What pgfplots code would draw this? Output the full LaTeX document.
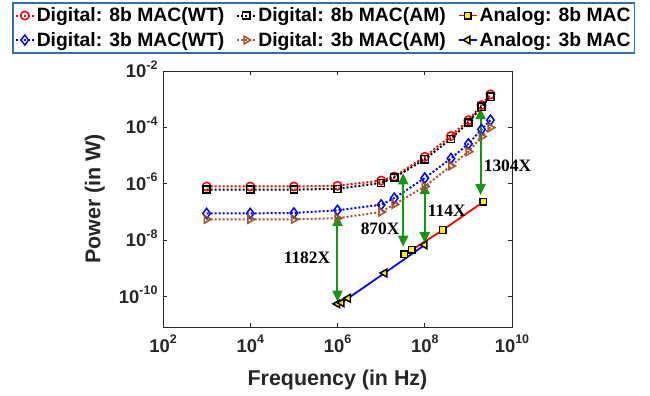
\documentclass[border=0pt]{standalone}
\usepackage{fontspec}
\setmainfont{Liberation Sans}
\newfontfamily\serifb{Liberation Serif}
\usepackage{pgfplots}
\pgfplotsset{compat=1.18}
\usetikzlibrary{arrows.meta}
\definecolor{mbrown}{RGB}{162,82,45}
\definecolor{mgreen}{RGB}{20,150,20}
\definecolor{legblue}{RGB}{46,110,180}
\definecolor{axgray}{RGB}{38,38,38}
\newcommand{\tl}[1]{10\raisebox{0.45em}{\fontsize{12.5}{12.5}\selectfont #1}}
\begin{document}
\begin{tikzpicture}
\useasboundingbox (-163bp,-69bp) rectangle (487bp,327bp);
\begin{axis}[
  at={(0,0)}, anchor=south west,
  scale only axis, width=349bp, height=256bp,
  xmode=log, ymode=log,
  xmin=1e2, xmax=1e10, ymin=8.3e-12, ymax=1e-2,
  xtick={1e2,1e4,1e6,1e8,1e10},
  xticklabels={\tl{2},\tl{4},\tl{6},\tl{8},\tl{10}},
  ytick={1e-10,1e-8,1e-6,1e-4,1e-2},
  yticklabels={\tl{-10},\tl{-8},\tl{-6},\tl{-4},\tl{-2}},
  xminorticks=false, yminorticks=false,
  tick align=inside, major tick length=4bp,
  axis line style={axgray, line width=0.9bp},
  every tick/.style={axgray, line width=0.9bp},
  ticklabel style={font=\fontsize{18.5}{18.5}\selectfont\bfseries, text=axgray},
  xticklabel style={anchor=base, yshift=-25bp},
  yticklabel style={anchor=base east, yshift=-6.5bp, xshift=-2bp},
  xlabel={Frequency (in Hz)},
  ylabel={Power (in W)},
  label style={font=\fontsize{21.5}{21.5}\selectfont\bfseries, text=axgray},
  xlabel style={at={(axis description cs:0.5,-0.230)}, anchor=base},
  ylabel style={at={(axis description cs:-0.195,0.5)}, anchor=center},
  clip=false,
  legend columns=3,
  legend cell align=left,
  legend image code/.code={\draw[mark repeat=2,mark phase=2] plot coordinates {(0bp,0bp) (9bp,0bp) (18bp,0bp)};},
  legend style={at={(axis description cs:-0.4327,1.2695)}, anchor=north west,
    draw=legblue, line width=1.6bp, fill=white,
    font=\fontsize{19.4}{20}\selectfont\bfseries,
    inner xsep=2bp, inner ysep=3bp, row sep=5bp,
    nodes={inner sep=2bp},
    /tikz/every even column/.append style={column sep=10bp}},
]
% Digital 8b WT
\addplot[red, line width=2bp, dash pattern=on 2bp off 2bp, mark=o, mark size=4.2bp, mark options={solid, line width=1.5bp}]
coordinates {(1e3,8e-7)(1e4,8e-7)(1e5,8e-7)(1e6,8.5e-7)(1e7,1.3e-6)(2e7,1.8e-6)(1e8,9e-6)(4e8,5e-5)(1e9,1.8e-4)(2e9,6.2e-4)(3.2e9,1.48e-3)};
\addlegendentry{Digital: 8b MAC(WT)}
% Digital 8b AM
\addplot[black, line width=2bp, dash pattern=on 2bp off 2bp, mark=square, mark size=3.6bp, mark options={solid, line width=1.5bp}]
coordinates {(1e3,6.2e-7)(1e4,6.2e-7)(1e5,6.2e-7)(1e6,6.6e-7)(1e7,1.07e-6)(2e7,1.65e-6)(1e8,7.4e-6)(4e8,3.9e-5)(1e9,1.5e-4)(2e9,5.4e-4)(3.2e9,1.23e-3)};
\addlegendentry{Digital: 8b MAC(AM)}
% Analog 8b
\addplot[red, line width=1.8bp, mark=square*, mark size=3.3bp, mark options={fill=yellow, draw=black, line width=1.5bp}]
coordinates {(3.4e7,3.2e-9)(5e7,4.5e-9)(2.6e8,2.3e-8)(2.2e9,2.3e-7)};
\addlegendentry{Analog: 8b MAC}
% Digital 3b WT
\addplot[blue, line width=2bp, dash pattern=on 2bp off 2bp, mark=diamond, mark size=5bp, mark options={solid, line width=1.5bp}]
coordinates {(1e3,8.9e-8)(1e4,8.9e-8)(1e5,9.2e-8)(1e6,1.15e-7)(1e7,1.8e-7)(2e7,3.1e-7)(1e8,1.6e-6)(4e8,7.9e-6)(1e9,2.6e-5)(2e9,8.5e-5)(3.2e9,1.8e-4)};
\addlegendentry{Digital: 3b MAC(WT)}
% Digital 3b AM
\addplot[mbrown, line width=2bp, dash pattern=on 2bp off 2bp, mark=triangle, mark size=4.5bp, mark options={solid, line width=1.5bp, rotate=-90}]
coordinates {(1e3,5.5e-8)(1e4,5.5e-8)(1e5,5.5e-8)(1e6,6e-8)(1e7,1e-7)(2e7,1.85e-7)(1e8,8e-7)(4e8,4.3e-6)(1e9,1.38e-5)(2e9,4.7e-5)(3.2e9,9.8e-5)};
\addlegendentry{Digital: 3b MAC(AM)}
% Analog 3b
\addplot[blue, line width=1.8bp, mark=triangle*, mark size=4.5bp, mark options={fill=yellow, draw=black, line width=1.5bp, rotate=90}]
coordinates {(1e6,5.5e-11)(1.25e6,6e-11)(1.75e6,8.7e-11)(1.2e7,6.8e-10)(1e8,6.8e-9)};
\addlegendentry{Analog: 3b MAC}
% arrows
\addplot[mgreen, line width=2bp, {Triangle[length=11bp,width=10bp]}-{Triangle[length=11bp,width=10bp]}, forget plot] coordinates {(1e6,7.8e-8)(1e6,6.6e-11)};
\addplot[mgreen, line width=2bp, {Triangle[length=11bp,width=10bp]}-{Triangle[length=11bp,width=10bp]}, forget plot] coordinates {(3.2e7,2.35e-6)(3.2e7,5.9e-9)};
\addplot[mgreen, line width=2bp, {Triangle[length=11bp,width=10bp]}-{Triangle[length=11bp,width=10bp]}, forget plot] coordinates {(1e8,1.05e-6)(1e8,7.8e-9)};
\addplot[mgreen, line width=2bp, {Triangle[length=11bp,width=10bp]}-{Triangle[length=11bp,width=10bp]}, forget plot] coordinates {(1.9e9,4.8e-4)(1.9e9,4.0e-7)};
\node[font=\fontsize{17.5}{17.5}\serifb\bfseries] at (axis cs:2e5,2.3e-9) {1182X};
\node[font=\fontsize{17.5}{17.5}\serifb\bfseries] at (axis cs:9.5e6,2.5e-8) {870X};
\node[font=\fontsize{17.5}{17.5}\serifb\bfseries] at (axis cs:3.2e8,1.1e-7) {114X};
\node[font=\fontsize{17.5}{17.5}\serifb\bfseries] at (axis cs:7.9e9,4.3e-6) {1304X};
\end{axis}
\end{tikzpicture}
\end{document}
